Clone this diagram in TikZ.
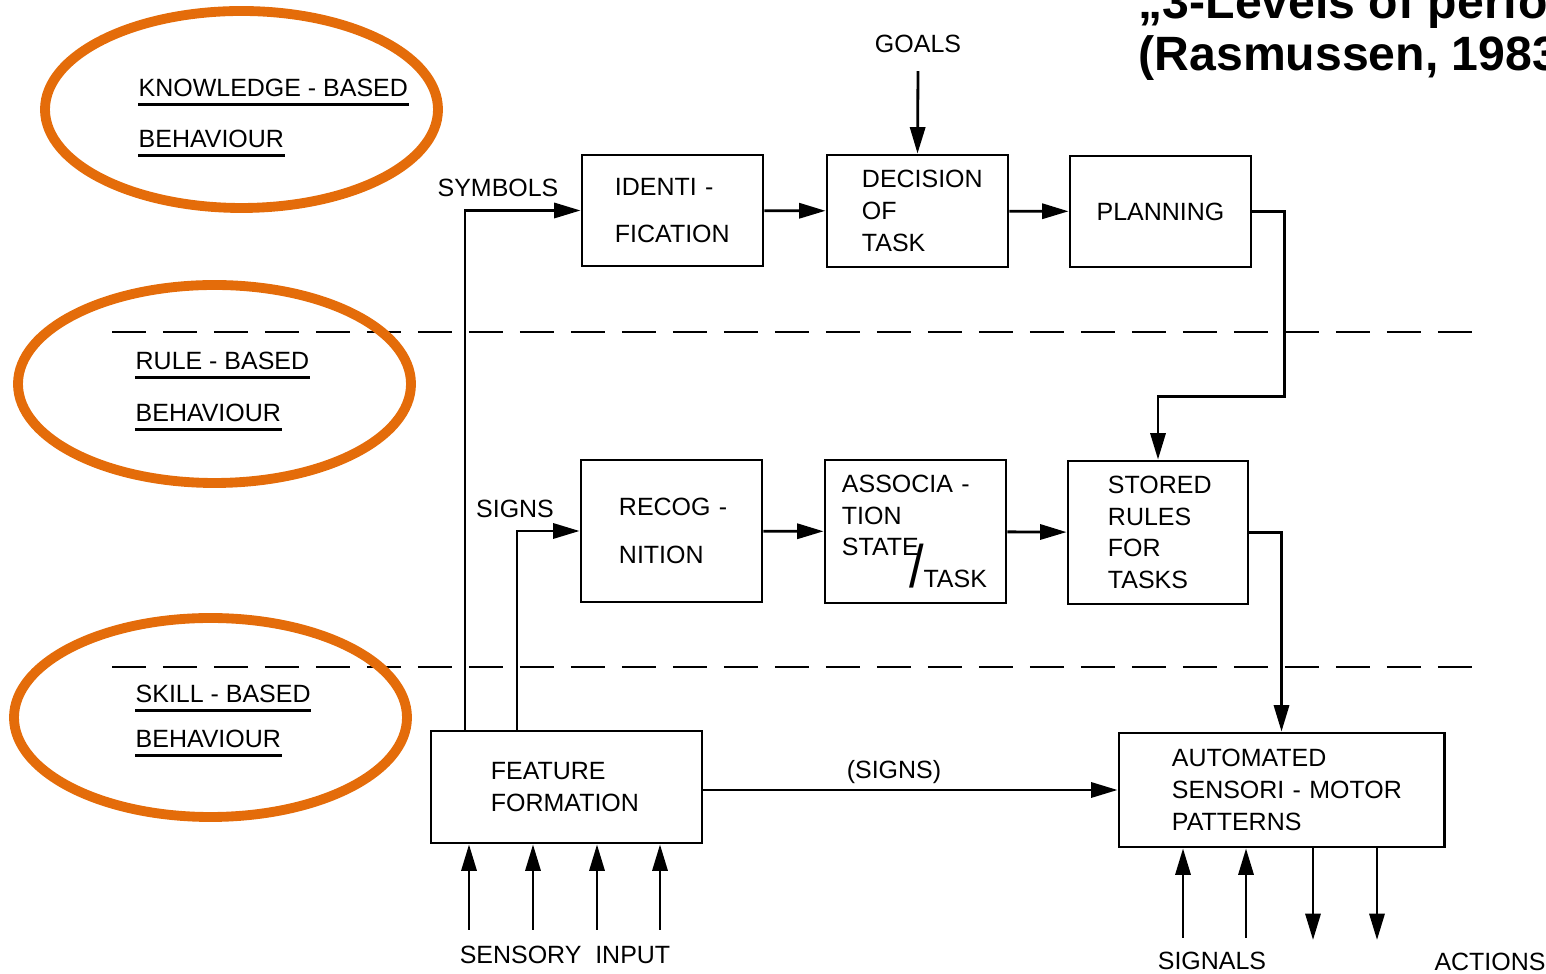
\documentclass[tikz,border=0pt]{standalone}
\usepackage{fontspec}
\setmainfont{Liberation Sans}
\usepackage{tikz}
\usetikzlibrary{
  arrows.meta,
  positioning,
  calc
}
\hyphenpenalty=10000
\exhyphenpenalty=10000
\definecolor{rsOrange}{HTML}{E46C0A}
\newcommand{\rsfont}{\fontsize{7.1}{9}\selectfont}
\tikzset{
  rsbox/.style={
    draw, line width=0.8pt, font=\rsfont, align=left, inner sep=0pt,
    minimum width=1.81cm, minimum height=1.11cm
  },
  rstag/.style={font=\rsfont, inner sep=1pt},
  lvl/.style={font=\rsfont, inner sep=0pt, anchor=base west},
  uline/.style={line width=0.7pt},
  conn/.style={-{Triangle[length=7.5pt, width=4.3pt]}, line width=0.8pt},
  lvline/.style={line width=0.8pt, dash pattern=on 9.7pt off 4.8pt},
  hilite/.style={draw=rsOrange, line width=2.8pt},
  rstitle/.style={font=\fontsize{13.7}{14.8}\selectfont\bfseries, align=left, inner sep=0pt, anchor=base west}
}

\begin{document}
\begin{tikzpicture}[x=0.01cm, y=-0.01cm]
  \useasboundingbox (0,0) rectangle (1546,974);
  \clip (0,0) rectangle (1546,974);

  \node[rstitle] (title) at (1138,71) {„3-Levels of perfo\\(Rasmussen, 1983};

  % levels
  \draw[lvline] (112,332) -- (1482,332);
  \draw[lvline] (112,667) -- (1482,667);

  \node[lvl] (kb1) at (138,97) {KNOWLEDGE - BASED};
  \node[lvl] (kb2) at (138,148) {BEHAVIOUR};
  \node[lvl] (rb1) at (135,370) {RULE - BASED};
  \node[lvl] (rb2) at (135,422) {BEHAVIOUR};
  \node[lvl] (sb1) at (135,703) {SKILL - BASED};
  \node[lvl] (sb2) at (135,748) {BEHAVIOUR};
  \foreach \n in {kb1,kb2,rb1,rb2,sb1,sb2}
    \draw[uline] ([yshift=-0.075cm]\n.base west) -- ([yshift=-0.075cm]\n.base east);

  % blocks
  \node[rsbox, text width=1.15cm] (ident) at (672.5,210.5) {IDENTI~-\\[4.5pt]FICATION};
  \node[rsbox, minimum height=1.12cm, text width=1.11cm] (dec) at (917.5,211) {DECISION\\OF\\TASK};
  \node[rsbox, align=center] (plan) at (1160.5,211.5) {PLANNING};
  \node[rsbox, minimum height=1.42cm, text width=1.05cm] (recog) at (671.5,531) {RECOG~-\\[4.5pt]NITION};
  \node[rsbox, minimum height=1.43cm, text width=1.47cm] (assoc) at (915.5,531.5)
    {ASSOCIA~-\\TION\\STATE\\\hspace*{0.67cm}\smash{\scalebox{2.1}[2.4]{/}}TASK};
  \node[rsbox, minimum width=1.80cm, minimum height=1.43cm, text width=1.0cm] (store) at (1158,532.5)
    {STORED\\RULES\\FOR\\TASKS};
  \node[rsbox, minimum width=2.71cm, minimum height=1.12cm, text width=1.51cm] (feat) at (566.5,787)
    {FEATURE\\FORMATION};
  \node[rsbox, minimum width=3.25cm, minimum height=1.14cm, text width=2.19cm] (auto) at (1281.5,790)
    {AUTOMATED\\SENSORI~-~MOTOR\\PATTERNS};

  % flows
  \node[rstag] (goals) at (918,44) {GOALS};
  \draw[conn] ([yshift=-0.14cm]goals.south) -- (dec.north);
  \draw[conn] (ident) -- (dec);
  \draw[conn] (dec) -- (plan);
  \draw[conn] (plan.east) -- ++(32,0) |- ([yshift=0.63cm]store.north) -- (store.north);
  \draw[conn] (recog) -- (assoc);
  \draw[conn] (assoc) -- (store);
  \draw[conn] (store.east) -| (auto.north);

  \node[rstag] (symb) at (498,188) {SYMBOLS};
  \node[rstag] (signs) at (515,509) {SIGNS};
  \draw[conn] ([xshift=-1.015cm]feat.north) |- (ident.west);
  \draw[conn] ([xshift=-0.495cm]feat.north) |- (recog.west);
  \draw[conn] (feat.east |- auto.west) -- node[rstag, pos=0.46, above=0.3pt] {(SIGNS)} (auto.west);

  \foreach \x [count=\i] in {469,533,597,660} {
    \coordinate (sin\i) at (\x,930);
    \draw[conn] (sin\i) -- (sin\i |- feat.south);
  }
  \foreach \x [count=\i] in {1183,1246} {
    \coordinate (sig\i) at (\x,938);
    \draw[conn] (sig\i) -- (sig\i |- auto.south);
  }
  \foreach \x [count=\i] in {1313,1377} {
    \coordinate (act\i) at (\x,940);
    \draw[conn] (act\i |- auto.south) -- (act\i);
  }
  \node[rstag] (sens) at (565,955) {SENSORY~~INPUT};
  \node[rstag] (sigl) at (1212,961) {SIGNALS};
  \node[rstag] (actl) at (1490,962) {ACTIONS};

  % highlights
  \draw[hilite] (241.5,109.5) ellipse [x radius=196.5, y radius=98.5];
  \draw[hilite] (214.5,384) ellipse [x radius=196.5, y radius=99];
  \draw[hilite] (210.5,717.5) ellipse [x radius=196.5, y radius=99.5];
\end{tikzpicture}
\end{document}
